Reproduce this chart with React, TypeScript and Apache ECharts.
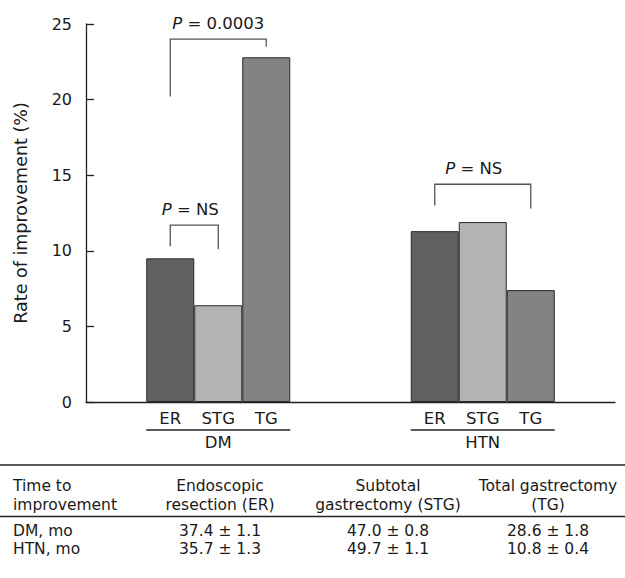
import React, { useEffect, useRef } from "react";
import * as echarts from "echarts";

// ---- data ----
const groups = ["DM", "HTN"];
const procedures = ["ER", "STG", "TG"];
const erValues = [9.5, 11.3];
const stgValues = [6.4, 11.9];
const tgValues = [22.8, 7.4];
const yTicks = [0, 5, 10, 15, 20, 25];

// significance brackets (values on the y scale)
const bracketGroup = [0, 0, 1];
const bracketFrom = [0, 0, 0];
const bracketTo = [2, 1, 2];
const bracketTop = [24.0, 11.7, 14.4];
const bracketLeftEnd = [20.2, 10.3, 13.0];
const bracketRightEnd = [23.5, 10.1, 12.8];
const bracketLabel = ["0.0003", "NS", "NS"];

// table
const tableHeader = [
  "Time to\nimprovement",
  "Endoscopic\nresection (ER)",
  "Subtotal\ngastrectomy (STG)",
  "Total gastrectomy\n(TG)",
];
const tableRowLabels = ["DM, mo", "HTN, mo"];
const tableER = ["37.4 ± 1.1", "35.7 ± 1.3"];
const tableSTG = ["47.0 ± 0.8", "49.7 ± 1.1"];
const tableTG = ["28.6 ± 1.8", "10.8 ± 0.4"];

// ---- style ----
const FONT = "DejaVu Sans";
const BAR_W = 48;
const COLORS = ["#616161", "#b3b3b3", "#838383"];
const TEXT = "#1a1a1a";
const BRACKET_TEXT_DX = [0, -4, -9];

export default function App() {
  const ref = useRef<HTMLDivElement>(null);

  useEffect(() => {
    document.body.style.margin = "0";
    if (!ref.current) return;
    const chart = echarts.init(ref.current, undefined, { renderer: "svg" });

    const seriesValues = [erValues, stgValues, tgValues];

    const bars = procedures.map((p, k) => ({
      name: p,
      type: "bar",
      data: seriesValues[k],
      barWidth: BAR_W,
      barGap: "0%",
      itemStyle: { color: COLORS[k], borderColor: "#2a2a2a", borderWidth: 1 },
      label: {
        show: true,
        position: "bottom",
        distance: 8,
        formatter: "{a}",
        fontFamily: FONT,
        fontSize: 16.5,
        color: TEXT,
      },
      emphasis: { disabled: true },
    }));

    const bracketSeries = {
      type: "custom",
      data: bracketGroup.map((g, i) => [g, bracketTop[i]]),
      encode: { x: 0, y: 1 },
      silent: true,
      z: 5,
      renderItem: (params: any, api: any) => {
        const i = params.dataIndex;
        const g = bracketGroup[i];
        const c = api.coord([g, 0]);
        const xL = c[0] + (bracketFrom[i] - 1) * BAR_W;
        const xR = c[0] + (bracketTo[i] - 1) * BAR_W;
        const yT = api.coord([g, bracketTop[i]])[1];
        const yL = api.coord([g, bracketLeftEnd[i]])[1];
        const yR = api.coord([g, bracketRightEnd[i]])[1];
        return {
          type: "group",
          children: [
            {
              type: "polyline",
              shape: { points: [[xL, yL], [xL, yT], [xR, yT], [xR, yR]] },
              style: { stroke: "#555", lineWidth: 1.3, fill: null },
            },
            {
              type: "text",
              x: (xL + xR) / 2 + BRACKET_TEXT_DX[i],
              y: yT - 16,
              style: {
                text: "{i|P} = " + bracketLabel[i],
                align: "center",
                verticalAlign: "middle",
                font: `16.5px "${FONT}"`,
                fill: TEXT,
                rich: {
                  i: { fontStyle: "italic", fontFamily: FONT, fontSize: 16.5, fill: TEXT, color: TEXT },
                },
              },
            },
          ],
        };
      },
    };

    const underlineSeries = {
      type: "custom",
      data: groups.map((_, g) => [g, 0]),
      encode: { x: 0, y: 1 },
      silent: true,
      renderItem: (params: any, api: any) => {
        const c = api.coord([params.dataIndex, 0]);
        return {
          type: "line",
          shape: { x1: c[0] - 1.5 * BAR_W, y1: c[1] + 28, x2: c[0] + 1.5 * BAR_W, y2: c[1] + 28 },
          style: { stroke: "#222", lineWidth: 1.3 },
        };
      },
    };

    // table graphics
    const colX = [13, 220, 388, 548];
    const headerY = 495.5;
    const rowY = [531, 549];
    const graphics: any[] = [];
    graphics.push({
      type: "line",
      shape: { x1: 0, y1: 465, x2: 625, y2: 465 },
      style: { stroke: "#222", lineWidth: 1.3 },
    });
    graphics.push({
      type: "line",
      shape: { x1: 0, y1: 516.5, x2: 625, y2: 516.5 },
      style: { stroke: "#222", lineWidth: 1.3 },
    });
    const txt = (s: string, x: number, y: number, align: string) => ({
      type: "text",
      x,
      y,
      style: {
        text: s,
        font: `15.5px "${FONT}"`,
        fontFamily: FONT,
        fontSize: 15.5,
        lineHeight: 19,
        fill: TEXT,
        align,
        textAlign: align,
        verticalAlign: "middle",
        textVerticalAlign: "middle",
      },
    });
    tableHeader.forEach((h, j) => graphics.push(txt(h, colX[j], headerY, j === 0 ? "left" : "center")));
    const cols = [tableRowLabels, tableER, tableSTG, tableTG];
    rowY.forEach((y, r) => {
      cols.forEach((col, j) => graphics.push(txt(col[r], colX[j], y, j === 0 ? "left" : "center")));
    });

    chart.setOption({
      animation: false,
      grid: { left: 86, top: 24, right: 10, bottom: 176, containLabel: false },
      xAxis: {
        type: "category",
        data: groups,
        axisTick: { show: false },
        axisLine: { lineStyle: { color: "#222", width: 1.3 } },
        axisLabel: { margin: 32, fontFamily: FONT, fontSize: 16.5, color: TEXT },
      },
      yAxis: {
        type: "value",
        min: yTicks[0],
        max: yTicks[yTicks.length - 1],
        interval: 5,
        name: "Rate of improvement (%)",
        nameLocation: "middle",
        nameGap: 56,
        nameTextStyle: { fontFamily: FONT, fontSize: 17.5, color: TEXT },
        axisLine: { show: true, lineStyle: { color: "#222", width: 1.3 } },
        axisTick: { show: true, inside: true, length: 8, lineStyle: { color: "#222", width: 1.3 } },
        axisLabel: { margin: 14, fontFamily: FONT, fontSize: 16, color: TEXT },
        splitLine: { show: false },
      },
      series: [...bars, bracketSeries, underlineSeries],
      graphic: graphics,
    });

    return () => chart.dispose();
  }, []);

  return <div ref={ref} style={{ width: 625, height: 578 }} />;
}
